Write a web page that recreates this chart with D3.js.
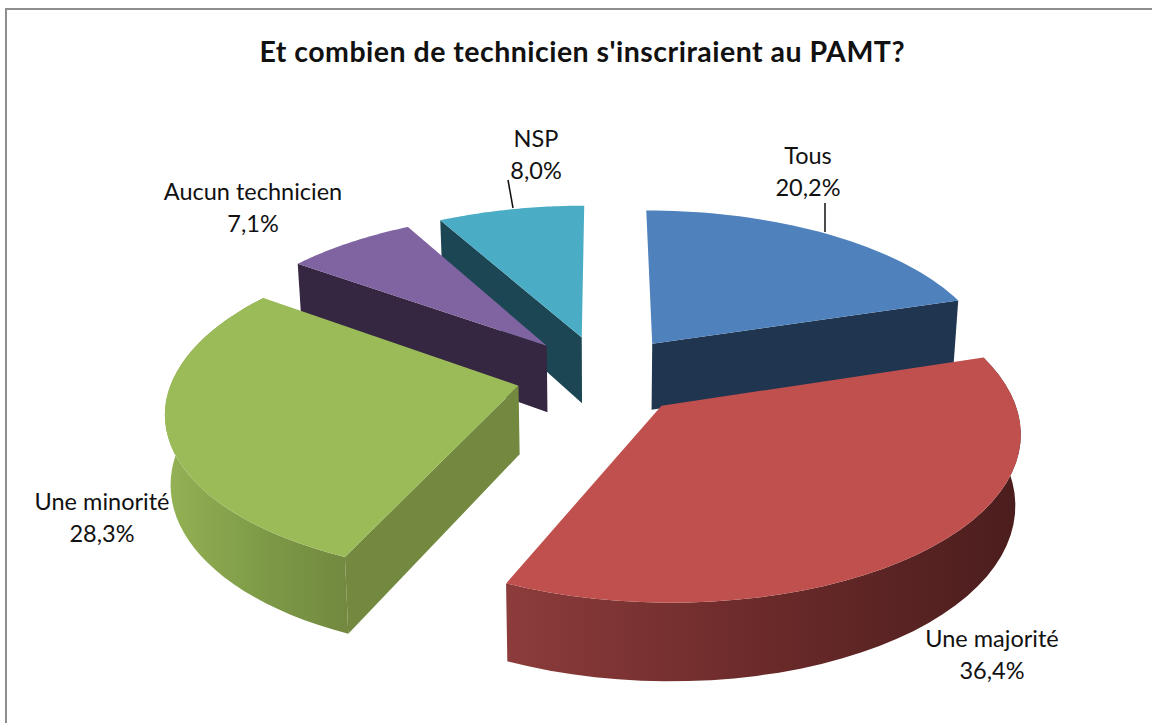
<!DOCTYPE html>
<html><head><meta charset="utf-8">
<style>html,body{margin:0;padding:0;background:#fff;overflow:hidden}svg{display:block}text{font-family:Lato,"Open Sans",sans-serif;fill:#111}</style>
<script src="https://cdn.jsdelivr.net/npm/d3@7/dist/d3.min.js"></script>
</head><body><div id="c"></div>
<script>
const title = "Et combien de technicien s'inscriraient au PAMT?";
const categories = ["Tous","Une majorité","Une minorité","Aucun technicien","NSP"];
const values = [20.2,36.4,28.3,7.1,8.0];
const valueLabels = ["20,2%","36,4%","28,3%","7,1%","8,0%"];

const W=1152,H=723;
const topColors=["#4f81bd","#c0504d","#9bbb59","#8064a2","#4bacc6"];
const sideColors=["#1f3550","#4a1d1d","#72893f","#352641","#1c4653"];
const wallStops=[null,["#8c3c3b","#6b2a2a","#4b1d1d"],["#95b255","#7f9c48","#72893f"],null,null];
const explode=[.25,.25,.25,.25,.25];
const innerEdge=["end",null,"start","start","start"];
const labelPos=[[808,164],[992,647],[102,510],[253,200],[536,147]];
const paintOrder=[4,3,0,2,1];
const leaders=[[0,825,203,825,232],[4,508,180,513,208]];
const view={cx:602.5,cy:375,rx:345,ry:160,k:.14,dep:68,depK:9,shrink:.987};

const svg=d3.select("#c").append("svg").attr("width",W).attr("height",H);
const defs=svg.append("defs");
svg.append("rect").attr("x",6).attr("y",9).attr("width",W+10).attr("height",H+10)
  .attr("fill","#fff").attr("stroke","#8e8e8e").attr("stroke-width",2);
svg.append("text").attr("x",582).attr("y",62).attr("text-anchor","middle")
  .attr("font-size",28.5).attr("font-weight",700)
  .attr("textLength",645).attr("lengthAdjust","spacing").text(title);

const arcs=d3.pie().sort(null).value(d=>d)(values);
const proj=(X,Z,bottom)=>{
  const den=1-view.k*Z;
  let x=view.cx+view.rx*X/den, y=view.cy+view.ry*Z/den;
  if(bottom){x=view.cx+(x-view.cx)*view.shrink; y+=view.dep+view.depK*Z;}
  return [x,y];
};
const line=d3.line();
paintOrder.forEach(i=>{
  const a=arcs[i],m=(a.startAngle+a.endAngle)/2,e=explode[i];
  const ex=e*Math.sin(m),ez=-e*Math.cos(m);
  const P=(t,b)=>proj(ex+Math.sin(t),ez-Math.cos(t),b);
  const O=b=>proj(ex,ez,b);
  const steps=d3.range(0,41).map(s=>a.startAngle+(a.endAngle-a.startAngle)*s/40);
  const g=svg.append("g").attr("class","slice");
  const edge=innerEdge[i];
  if(edge){
    const t=edge==="start"?a.startAngle:a.endAngle;
    g.append("path").attr("d",line([O(false),P(t,false),P(t,true),O(true)])+"Z")
      .attr("fill",sideColors[i]);
  }
  if(wallStops[i]){
    const id="wall"+i;
    const outer=steps.map(t=>P(t,false)).concat(steps.slice().reverse().map(t=>P(t,true)));
    const bodyPts=steps.filter(t=>Math.cos(t)<.1).map(t=>P(t,false));
    const xs=d3.extent(bodyPts,p=>p[0]);
    const gr=defs.append("linearGradient").attr("id",id).attr("gradientUnits","userSpaceOnUse")
      .attr("x1",xs[0]).attr("x2",xs[1]).attr("y1",0).attr("y2",0);
    wallStops[i].forEach((c,j)=>gr.append("stop").attr("offset",j/2).attr("stop-color",c));
    g.append("path").attr("d",line(outer)+"Z").attr("fill",`url(#${id})`);
  }
  g.append("path").attr("d",line([O(false)].concat(steps.map(t=>P(t,false))))+"Z")
    .attr("fill",topColors[i]);
});
leaders.forEach(l=>svg.append("line").attr("x1",l[1]).attr("y1",l[2]).attr("x2",l[3]).attr("y2",l[4])
  .attr("stroke","#111").attr("stroke-width",1.5));
categories.forEach((c,i)=>{
  const t=svg.append("text").attr("text-anchor","middle").attr("font-size",23.5);
  t.append("tspan").attr("x",labelPos[i][0]).attr("y",labelPos[i][1]).text(c);
  t.append("tspan").attr("x",labelPos[i][0]).attr("y",labelPos[i][1]+31.5).text(valueLabels[i]);
});
</script></body></html>
